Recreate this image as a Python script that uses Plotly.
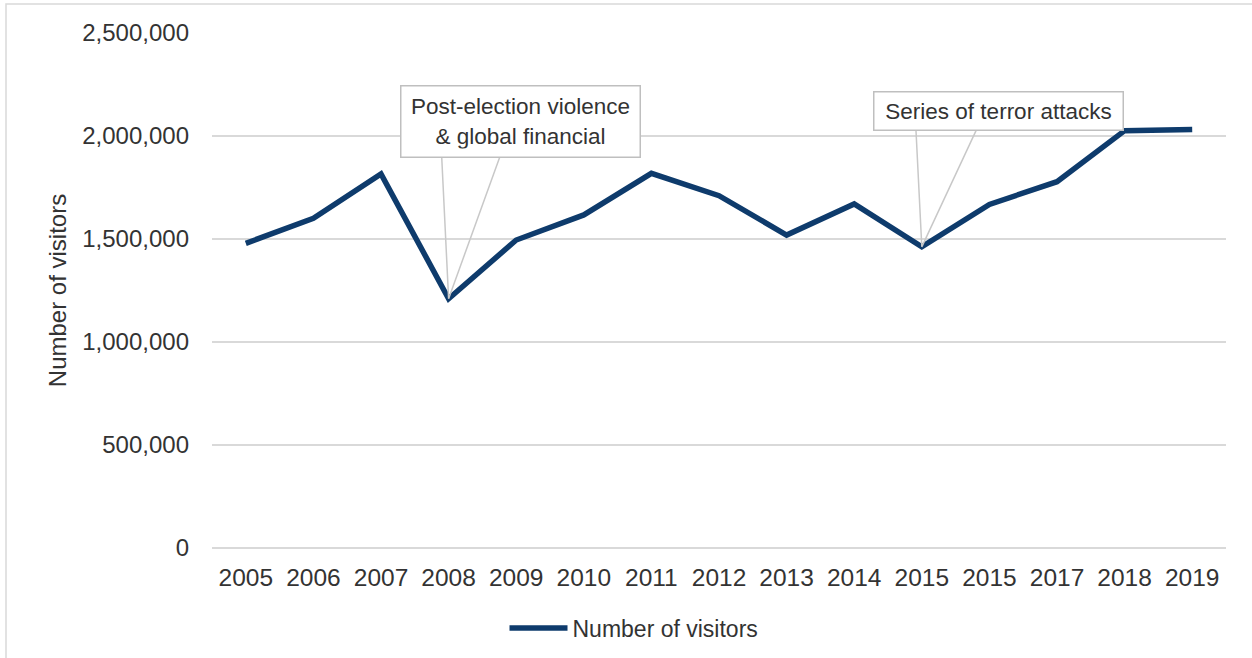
import plotly.graph_objects as go

years = ["2005", "2006", "2007", "2008", "2009", "2010", "2011", "2012",
         "2013", "2014", "2015", "2015", "2017", "2018", "2019"]
visitors = [1479000, 1600000, 1816000, 1210000, 1495000, 1617000, 1819000,
            1710000, 1519000, 1670000, 1462000, 1668000, 1778000, 2026000, 2032000]
callout_idx = [3, 10]
callout_text = ["Post-election violence<br>& global financial", "Series of terror attacks"]

FONT = "Liberation Sans, Arial, sans-serif"
TXT = "#333333"
GRID = "#D9D9D9"
NAVY = "#0E3B6C"

W, H = 1252, 658
L, R, T, B = 212, 26, 33, 110
pw, ph = W - L - R, H - T - B

x_idx = list(range(len(years)))

fig = go.Figure()
fig.add_trace(go.Scatter(
    x=x_idx, y=visitors, mode="lines", name="Number of visitors",
    line=dict(color=NAVY, width=5.5, shape="linear"),
    hoverinfo="skip",
))

# callouts: box (annotation) + wedge lines (pixel-anchored path shape)
box_cfg = [
    dict(ax=72, ay=-177, width=222, height=54, wedge="M -7,144 L 0,0 L 52,144"),
    dict(ax=77, ay=-136, width=232, height=21, wedge="M -6,120 L 0,0 L 56,120"),
]
for i, txt, cfg in zip(callout_idx, callout_text, box_cfg):
    fig.add_shape(type="path", xref="x", yref="y",
                  xsizemode="pixel", ysizemode="pixel",
                  xanchor=x_idx[i], yanchor=visitors[i],
                  path=cfg["wedge"], line=dict(color="#C8C8C8", width=1.5),
                  layer="above")
    fig.add_annotation(x=x_idx[i], y=visitors[i], xref="x", yref="y",
                       text=txt, showarrow=True, arrowcolor="rgba(0,0,0,0)",
                       arrowwidth=0.1, ax=cfg["ax"], ay=cfg["ay"],
                       width=cfg["width"], height=cfg["height"],
                       bgcolor="white", bordercolor="#BFBFBF", borderwidth=1.5,
                       borderpad=8, align="center",
                       font=dict(family=FONT, size=22.5, color=TXT))

# outer chart border (left and top visible)
fig.add_shape(type="rect", xref="paper", yref="paper",
              x0=(6 - L) / pw, x1=(W + 20 - L) / pw,
              y0=(T + ph - (H + 20)) / ph, y1=(T + ph - 4) / ph,
              line=dict(color=GRID, width=1.5), fillcolor="rgba(0,0,0,0)",
              layer="below")

fig.update_layout(
    width=W, height=H,
    margin=dict(l=L, r=R, t=T, b=B, autoexpand=False),
    paper_bgcolor="white", plot_bgcolor="white",
    font=dict(family=FONT, size=23, color=TXT),
    showlegend=True,
    legend=dict(orientation="h", x=(634 - L) / pw, xanchor="center",
                y=-(628 - T - ph) / ph, yanchor="middle",
                font=dict(family=FONT, size=23, color=TXT),
                itemwidth=58, bgcolor="rgba(0,0,0,0)"),
    xaxis=dict(range=[-0.5, len(years) - 0.5], tickvals=x_idx, ticktext=years,
               showgrid=False, zeroline=False, showline=False, ticks="",
               ticklabelstandoff=12, tickfont=dict(size=24.5, color=TXT),
               fixedrange=True, automargin=False),
    yaxis=dict(range=[0, 2500000], dtick=500000, tickformat=",",
               showgrid=True, gridcolor=GRID, gridwidth=1.5,
               zeroline=True, zerolinecolor=GRID, zerolinewidth=1.5,
               showline=False, ticks="", ticklabelstandoff=22,
               tickfont=dict(size=24, color=TXT),
               title=dict(text="Number of visitors", standoff=8,
                          font=dict(size=24, color=TXT)),
               fixedrange=True, automargin=False),
)

fig.write_html("out.html", config={"displayModeBar": False},
               post_script="document.body.style.margin='0';")
